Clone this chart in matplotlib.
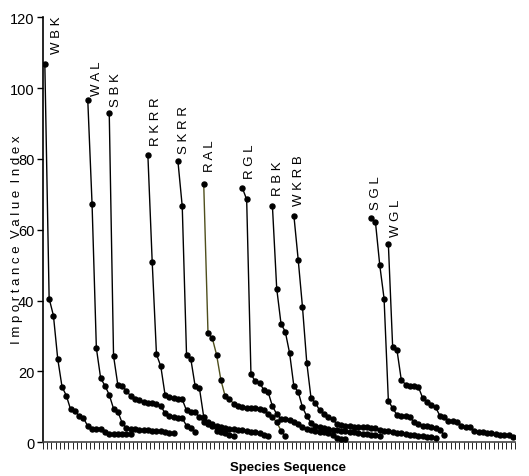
import numpy as np
import matplotlib
matplotlib.use("Agg")
import matplotlib.pyplot as plt

# importance value index of each site, ranked species sequence
# (each site starts at its own position along the shared species axis)
n_species = 110

sites = ["W B K", "W A L", "S B K", "R K R R", "S K R R", "R A L",
         "R G L", "R B K", "W K R B", "S G L", "W G L"]
starts = [0, 10, 15, 24, 31, 37, 46, 53, 58, 76, 80]

wbk = [106.7, 40.6, 35.8, 23.6, 15.7, 13.2, 9.3, 8.9, 7.4, 6.8, 4.6,
       3.9, 3.9, 3.9, 2.8, 2.4, 2.3, 2.3, 2.3, 2.3, 2.3]
wal = [96.6, 67.2, 26.6, 18.1, 16.0, 13.4, 9.5, 8.7, 5.5, 4.0, 3.8,
       3.7, 3.6, 3.5, 3.4, 3.3, 3.2, 3.1, 2.9, 2.7, 2.5]
sbk = [92.9, 24.4, 16.2, 15.9, 14.6, 13.0, 12.2, 12.0, 11.4, 11.2, 11.0,
       10.7, 10.3, 8.2, 7.5, 7.1, 7.0, 6.8, 4.7, 4.0, 3.0]
rkrr = [81.0, 51.0, 24.8, 21.5, 13.4, 12.7, 12.5, 12.3, 12.1, 9.0, 8.7,
        8.5, 7.1, 5.7, 5.2, 4.7, 3.3, 2.8, 2.5, 2.2, 1.9]
skrr = [79.3, 66.6, 24.6, 23.5, 15.9, 15.3, 7.2, 5.8, 5.3, 4.6, 4.3,
        4.1, 3.9, 3.7, 3.6, 3.4, 3.2, 3.0, 2.8, 2.6, 2.2, 1.9]
ral = [73.0, 30.8, 29.4, 24.7, 17.6, 13.0, 12.3, 10.8, 10.2, 9.9, 9.8,
       9.8, 9.7, 9.4, 9.0, 8.0, 7.1, 5.7, 3.3, 1.7]
rgl = [71.8, 68.6, 19.3, 17.2, 16.8, 14.8, 14.2, 10.2, 8.0, 6.6, 6.5,
       6.2, 5.8, 5.2, 4.2, 3.8, 3.6, 3.3, 3.0, 2.8, 2.5, 2.1, 1.3, 1.0, 1.0]
rbk = [66.7, 43.4, 33.5, 31.2, 25.2, 15.8, 14.3, 9.9, 7.4, 5.5, 4.5,
       4.2, 4.0, 3.7, 3.5, 3.4, 3.2, 3.1, 2.9, 2.8, 2.6, 2.4, 2.3, 2.2,
       2.0, 1.9]
wkrb = [64.0, 51.6, 38.2, 22.5, 12.4, 11.2, 9.0, 8.1, 7.1, 6.5, 5.2,
        5.0, 4.7, 4.5, 4.4, 4.3, 4.2, 4.2, 4.1, 4.0, 3.6, 3.3, 3.1, 2.9,
        2.7, 2.5, 2.4, 2.2, 2.0, 1.9, 1.7, 1.5, 1.4, 1.3]
sgl = [63.2, 62.1, 50.0, 40.6, 11.8, 9.6, 7.8, 7.4, 7.3, 7.1, 5.7,
       5.2, 4.7, 4.5, 4.2, 4.0, 3.6, 2.0]
wgl = [56.0, 26.9, 26.1, 17.7, 16.3, 16.0, 15.8, 15.6, 12.5, 11.5, 10.6,
       9.9, 7.5, 7.1, 6.1, 5.9, 5.8, 4.7, 4.4, 4.2, 3.3, 3.0, 2.8, 2.6,
       2.5, 2.4, 2.2, 2.1, 2.0, 1.5]

series = [wbk, wal, sbk, rkrr, skrr, ral, rgl, rbk, wkrb, sgl, wgl]

# label placement relative to first point of each curve
label_dx = [2.8, 2.1, 1.5, 1.8, 1.3, 1.4, 1.7, 1.4, 1.3, 1.2, 1.7]
label_dy = [3.3, 1.5, 2.1, 2.9, 2.4, 3.6, 2.8, 3.1, 3.0, 2.8, 2.3]

sans = ["Liberation Sans", "DejaVu Sans"]

fig = plt.figure(figsize=(5.29, 4.77), dpi=100)
ax = fig.add_axes([0.0807, 0.0706, 0.8929, 0.891])

for name, s0, vals, dx, dy in zip(sites, starts, series, label_dx, label_dy):
    x = np.arange(s0, s0 + len(vals))
    col = "#4f4f1c" if name == "R A L" else "black"
    ax.plot(x, vals, color=col, lw=1.0, zorder=2)
    ax.plot(x, vals, ls="none", marker="o", ms=3.6, color="black", zorder=3)
    ax.text(s0 + dx, vals[0] + dy, name, rotation=90, ha="center",
            va="bottom", fontsize=9.5, family=sans)

ax.set_xlim(-0.5, n_species - 0.5)
ax.set_ylim(0, 120)
ax.set_yticks(np.arange(0, 121, 20))
ax.set_yticklabels([str(v) for v in range(0, 121, 20)], family=sans,
                   fontsize=10.5)
ax.set_xticks(np.arange(-0.5, n_species, 1))
ax.set_xticklabels([])
ax.tick_params(axis="x", length=5, width=0.6, direction="out")
ax.tick_params(axis="y", length=4, width=1, direction="out", pad=2)

for side in ["top", "right"]:
    ax.spines[side].set_visible(False)
ax.spines["left"].set_linewidth(1.2)
ax.spines["bottom"].set_linewidth(1.2)
ax.spines["bottom"].set_color("#444444")

ax.set_ylabel("I m p o r t a n c e  V a l u e  I n d e x", family=sans,
              fontsize=9.5)
ax.yaxis.set_label_coords(-0.042, 0.48)
ax.set_xlabel("Species Sequence", family=sans, fontsize=9.5,
              fontweight="bold")
ax.xaxis.set_label_coords(0.52, -0.045)

fig.savefig("out.png", dpi=100)
